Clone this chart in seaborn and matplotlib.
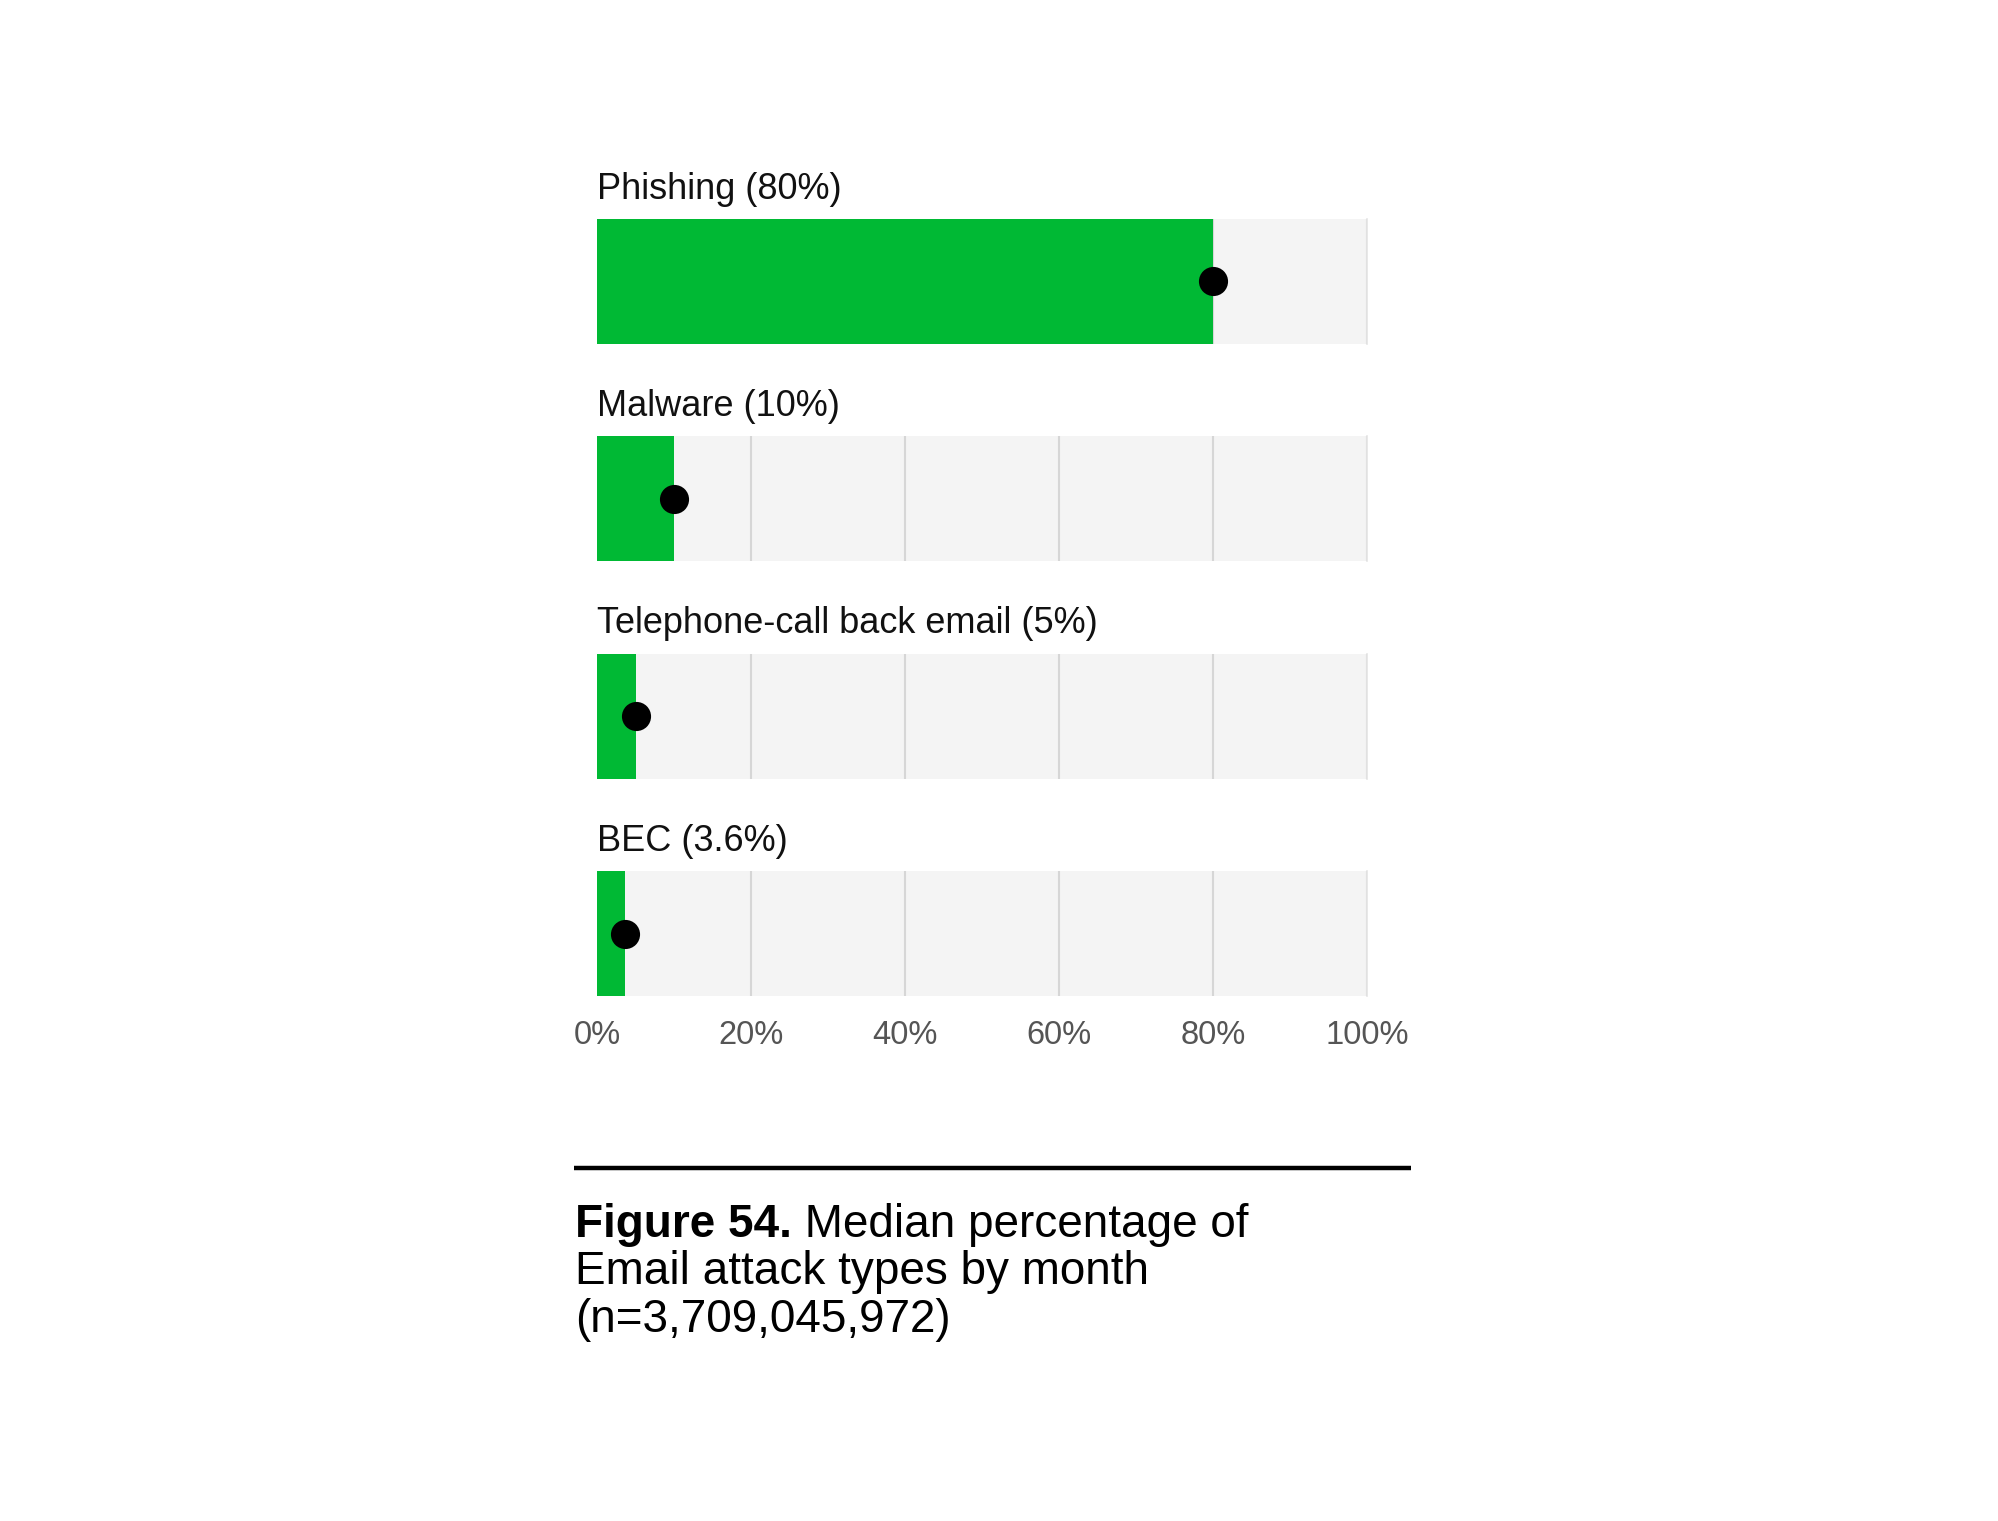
import matplotlib
matplotlib.use("Agg")
import matplotlib.pyplot as plt
from matplotlib.lines import Line2D
import seaborn as sns
import pandas as pd

attack_types = ["Phishing", "Malware", "Telephone-call back email", "BEC"]
median_pct = [80, 10, 5, 3.6]
tick_values = [0, 20, 40, 60, 80, 100]
tick_labels = ["0%", "20%", "40%", "60%", "80%", "100%"]
caption_bold = "Figure 54."
caption_rest = [" Median percentage of", "Email attack types by month", "(n=3,709,045,972)"]

GREEN = "#00b934"
BG = "#f4f4f4"
GRID = "#d6d6d6"

W, H = 1999, 1521

sns.set_theme(style="white")
plt.rcParams["font.family"] = ["Liberation Sans", "DejaVu Sans"]

df = pd.DataFrame({"type": attack_types, "pct": median_pct})

fig, axes = plt.subplots(
    4, 1, figsize=(W / 100, H / 100), dpi=100,
    gridspec_kw=dict(left=597 / W, right=1367 / W, top=1 - 219 / H,
                     bottom=1 - 996 / H, hspace=0.739))

for i, ax in enumerate(axes):
    row = df.iloc[[i]]
    ax.set_facecolor(BG)
    sns.barplot(data=row, x="pct", y="type", color=GREEN, width=1,
                linewidth=0, saturation=1, ax=ax)
    sns.scatterplot(data=row, x="pct", y="type", color="black", s=440,
                    linewidth=0, zorder=5, clip_on=False, ax=ax)
    ax.set_xlim(0, 100)
    ax.set_ylim(0.5, -0.5)
    ax.set_xticks(tick_values)
    ax.set_xticklabels(tick_labels)
    ax.set_yticks([])
    ax.set_xlabel("")
    ax.set_ylabel("")
    ax.grid(axis="x", color=GRID, lw=1.5)
    ax.set_axisbelow(True)
    for side in ["top", "left", "bottom"]:
        ax.spines[side].set_visible(False)
    ax.spines["right"].set_color("#e4e4e4")
    ax.spines["right"].set_linewidth(1.2)
    ax.tick_params(axis="x", length=0, labelbottom=(i == 3), labelsize=23.5,
                   labelcolor="#555555", pad=17.5)
    ax.set_title(f"{attack_types[i]} ({median_pct[i]:g}%)", loc="left",
                 pad=14.7, fontsize=26, color="#111111")

# separator rule above the caption
fig.add_artist(Line2D([574 / W, 1411 / W], [1 - 1168 / H] * 2, lw=3.2,
                      color="black", solid_capstyle="butt",
                      transform=fig.transFigure))

# caption
x0 = 575 / W
t = fig.text(x0, 1 - 1237 / H, caption_bold, fontsize=33, fontweight="bold",
             va="baseline", color="black")
fig.canvas.draw()
bb = t.get_window_extent(renderer=fig.canvas.get_renderer())
fig.text(bb.x1 / W, 1 - 1237 / H, caption_rest[0], fontsize=33,
         va="baseline", color="black")
fig.text(x0, 1 - 1284 / H, caption_rest[1], fontsize=33, va="baseline",
         color="black")
fig.text(x0, 1 - 1332 / H, caption_rest[2], fontsize=33, va="baseline",
         color="black")

fig.savefig("out.png", dpi=100, facecolor="white")
